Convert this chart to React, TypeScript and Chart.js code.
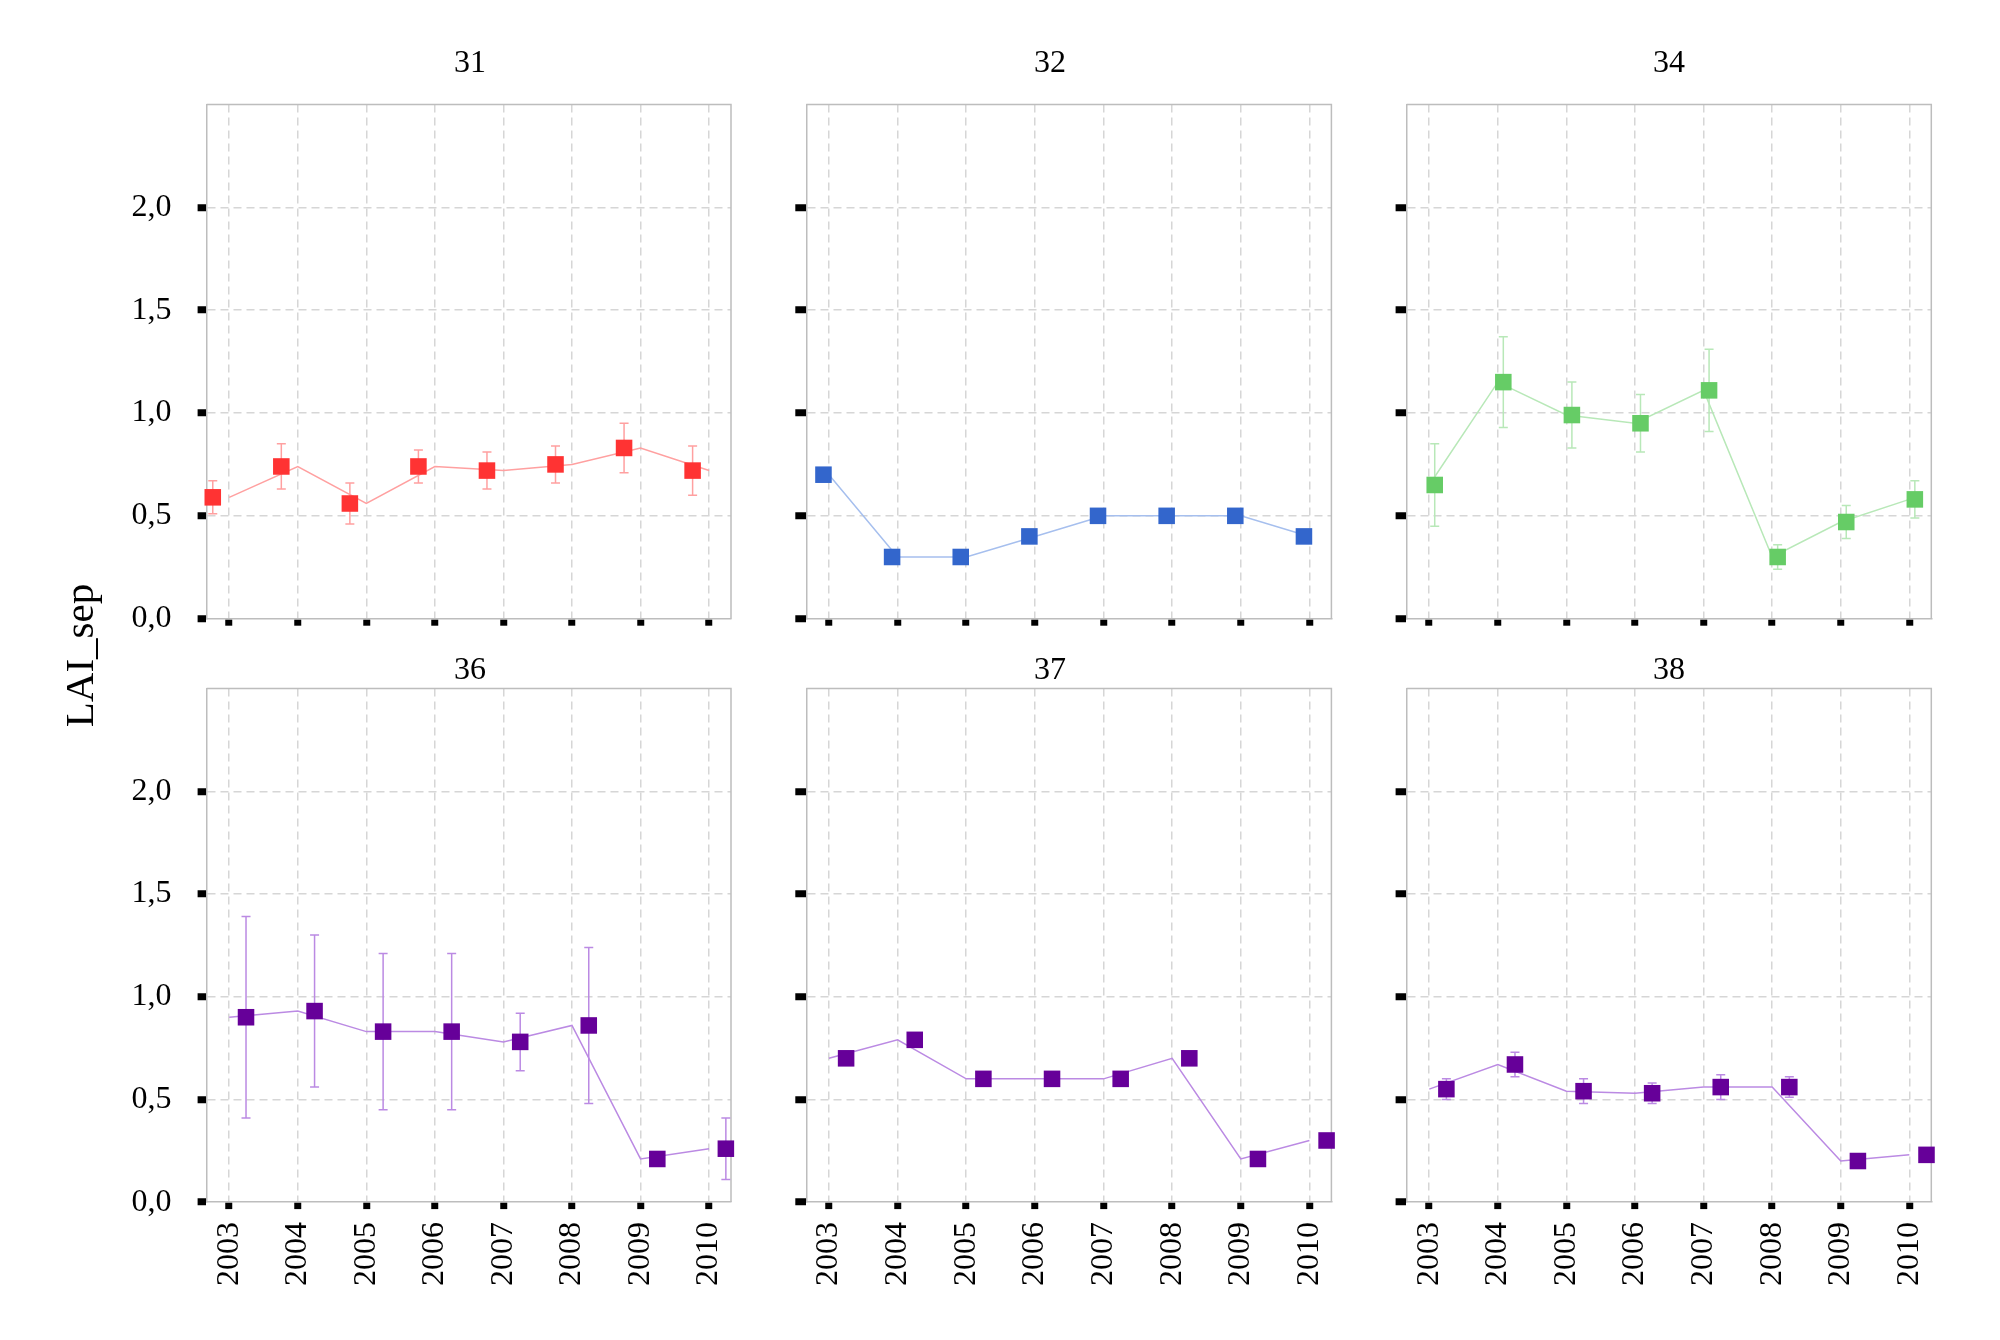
import React, { useEffect, useRef } from 'react';
import { Chart, registerables } from 'chart.js';

Chart.register(...registerables);
Chart.defaults.font.family = "'Liberation Serif', 'Times New Roman', serif";

const PAGE_W = 2000;
const PAGE_H = 1340;

// data
const years = [2003, 2004, 2005, 2006, 2007, 2008, 2009, 2010];
const yTicks = [0, 0.5, 1, 1.5, 2];
const yLabel = 'LAI_sep';

const lai31 = [0.59, 0.74, 0.56, 0.74, 0.72, 0.75, 0.83, 0.72];
const err31 = [0.08, 0.11, 0.1, 0.08, 0.09, 0.09, 0.12, 0.12];
const lai32 = [0.7, 0.3, 0.3, 0.4, 0.5, 0.5, 0.5, 0.4];
const err32 = [0, 0, 0, 0, 0, 0, 0, 0];
const lai34 = [0.65, 1.15, 0.99, 0.95, 1.11, 0.3, 0.47, 0.58];
const err34 = [0.2, 0.22, 0.16, 0.14, 0.2, 0.06, 0.08, 0.09];
const lai36 = [0.9, 0.93, 0.83, 0.83, 0.78, 0.86, 0.21, 0.26];
const err36 = [0.49, 0.37, 0.38, 0.38, 0.14, 0.38, 0, 0.15];
const lai37 = [0.7, 0.79, 0.6, 0.6, 0.6, 0.7, 0.21, 0.3];
const err37 = [0, 0, 0, 0, 0, 0, 0, 0];
const lai38 = [0.55, 0.67, 0.54, 0.53, 0.56, 0.56, 0.2, 0.23];
const err38 = [0.05, 0.06, 0.06, 0.05, 0.06, 0.05, 0, 0];

// layout of the plot boxes on the page
const colLeft = [206.6, 806.3, 1406.6];
const colRight = [731, 1331.4, 1931.3];
const rowTop = [104.4, 688.6];
const rowBottom = [618.7, 1202.1];
const titleY = [64, 671];

const RED = { marker: '#ff3333', line: '#ffa0a0' };
const BLUE = { marker: '#3366cc', line: '#a6bfee' };
const GREEN = { marker: '#66cc66', line: '#b8e8b8' };
const PURPLE = { marker: '#660099', line: '#bb8ae3' };

interface PanelDef {
  name: string;
  values: number[];
  errors: number[];
  col: number;
  row: number;
  color: { marker: string; line: string };
  shift: number;
  titleX: number;
  axisTitle?: boolean;
}

const panels: PanelDef[] = [
  { name: '31', values: lai31, errors: err31, col: 0, row: 0, color: RED, shift: -0.24, titleX: 470, axisTitle: true },
  { name: '32', values: lai32, errors: err32, col: 1, row: 0, color: BLUE, shift: -0.08, titleX: 1050 },
  { name: '34', values: lai34, errors: err34, col: 2, row: 0, color: GREEN, shift: 0.08, titleX: 1669 },
  { name: '36', values: lai36, errors: err36, col: 0, row: 1, color: PURPLE, shift: 0.245, titleX: 470 },
  { name: '37', values: lai37, errors: err37, col: 1, row: 1, color: PURPLE, shift: 0.25, titleX: 1050 },
  { name: '38', values: lai38, errors: err38, col: 2, row: 1, color: PURPLE, shift: 0.25, titleX: 1669 },
];

const GRID = '#d6d6d6';
const FRAME = '#bdbdbd';

function makeDecor(p: PanelDef) {
  return {
    id: 'decor',
    beforeDatasetsDraw(chart: any) {
      const { ctx, chartArea, scales } = chart;
      ctx.save();
      // top and right sides of the frame
      ctx.strokeStyle = FRAME;
      ctx.lineWidth = 1.5;
      ctx.beginPath();
      ctx.moveTo(chartArea.left, chartArea.top);
      ctx.lineTo(chartArea.right, chartArea.top);
      ctx.lineTo(chartArea.right, chartArea.bottom);
      ctx.stroke();
      // error bars
      ctx.strokeStyle = p.color.line;
      ctx.lineWidth = 1.5;
      p.values.forEach((v, i) => {
        const e = p.errors[i];
        if (!e) return;
        const x = scales.x.getPixelForValue(years[i] + p.shift);
        const y1 = scales.y.getPixelForValue(v + e);
        const y2 = scales.y.getPixelForValue(v - e);
        ctx.beginPath();
        ctx.moveTo(x, y1);
        ctx.lineTo(x, y2);
        ctx.moveTo(x - 4.5, y1);
        ctx.lineTo(x + 4.5, y1);
        ctx.moveTo(x - 4.5, y2);
        ctx.lineTo(x + 4.5, y2);
        ctx.stroke();
      });
      ctx.restore();
    },
    afterDraw(chart: any) {
      const { ctx } = chart;
      ctx.save();
      ctx.fillStyle = '#000';
      ctx.font = "32px 'Liberation Serif', serif";
      ctx.textAlign = 'center';
      ctx.textBaseline = 'middle';
      ctx.fillText(p.name, p.titleX, titleY[p.row]);
      if (p.axisTitle) {
        ctx.font = "41px 'Liberation Serif', serif";
        ctx.translate(93, 655.5);
        ctx.rotate(-Math.PI / 2);
        ctx.textBaseline = 'alphabetic';
        ctx.fillText(yLabel, 0, 0);
      }
      ctx.restore();
    },
  };
}

function makeConfig(p: PanelDef): any {
  const left = colLeft[p.col];
  const right = colRight[p.col];
  const top = rowTop[p.row];
  const bottom = rowBottom[p.row];
  const yW = 100;
  const xH = p.row === 1 ? 120 : 10;
  const tickFont = { family: "'Liberation Serif', serif", size: 32 };

  return {
    type: 'line',
    data: {
      datasets: [
        {
          data: years.map((x, i) => ({ x, y: p.values[i] })),
          borderColor: p.color.line,
          borderWidth: 1.5,
          pointRadius: 0,
          fill: false,
          tension: 0,
          order: 2,
        },
        {
          data: years.map((x, i) => ({ x: x + p.shift, y: p.values[i] })),
          showLine: false,
          pointStyle: 'rect',
          pointRadius: 11.7,
          backgroundColor: p.color.marker,
          borderColor: p.color.marker,
          borderWidth: 0,
          clip: false,
          order: 1,
        },
      ],
    },
    options: {
      animation: false,
      responsive: false,
      devicePixelRatio: 1,
      events: [],
      layout: {
        padding: {
          left: left - yW,
          top,
          right: PAGE_W - right,
          bottom: PAGE_H - bottom - xH,
        },
      },
      plugins: {
        legend: { display: false },
        tooltip: { enabled: false },
      },
      scales: {
        x: {
          type: 'linear',
          min: 2002.67,
          max: 2010.32,
          afterBuildTicks: (s: any) => {
            s.ticks = years.map((v) => ({ value: v }));
          },
          afterFit: (s: any) => {
            s.height = xH;
            s.paddingLeft = 0;
            s.paddingRight = 0;
          },
          ticks: {
            display: p.row === 1,
            autoSkip: false,
            minRotation: 90,
            maxRotation: 90,
            padding: 13,
            color: '#000',
            font: tickFont,
            callback: (v: number) => String(v),
          },
          grid: {
            color: GRID,
            lineWidth: 1.5,
            tickColor: '#000',
            tickLength: 7,
            tickWidth: 7,
            tickBorderDash: [],
          },
          border: { display: true, color: FRAME, width: 1.5, dash: [8, 5] },
        },
        y: {
          min: 0,
          max: 2.5,
          afterBuildTicks: (s: any) => {
            s.ticks = yTicks.map((v) => ({ value: v }));
          },
          afterFit: (s: any) => {
            s.width = yW;
            s.paddingTop = 0;
            s.paddingBottom = 0;
          },
          ticks: {
            display: p.col === 0,
            padding: 26,
            color: '#000',
            font: tickFont,
            callback: (v: number) => v.toFixed(1).replace('.', ','),
          },
          grid: {
            color: (c: any) => (c.tick && c.tick.value === 0 ? 'rgba(0,0,0,0)' : GRID),
            lineWidth: 1.5,
            tickColor: '#000',
            tickLength: p.col === 0 ? 9 : 11,
            tickWidth: 7,
            tickBorderDash: [],
          },
          border: { display: true, color: FRAME, width: 1.5, dash: [8, 5] },
        },
      },
    },
    plugins: [makeDecor(p)],
  };
}

function Panel({ panel }: { panel: PanelDef }) {
  const ref = useRef<HTMLCanvasElement>(null);

  useEffect(() => {
    const chart = new Chart(ref.current as HTMLCanvasElement, makeConfig(panel));
    return () => {
      chart.destroy();
    };
  }, [panel]);

  return (
    <canvas
      ref={ref}
      width={PAGE_W}
      height={PAGE_H}
      style={{ position: 'absolute', left: 0, top: 0, width: PAGE_W, height: PAGE_H }}
    />
  );
}

export default function App() {
  return (
    <div
      style={{
        position: 'absolute',
        left: 0,
        top: 0,
        width: PAGE_W,
        height: PAGE_H,
        background: '#fff',
        overflow: 'hidden',
      }}
    >
      {panels.map((p) => (
        <Panel key={p.name} panel={p} />
      ))}
    </div>
  );
}
